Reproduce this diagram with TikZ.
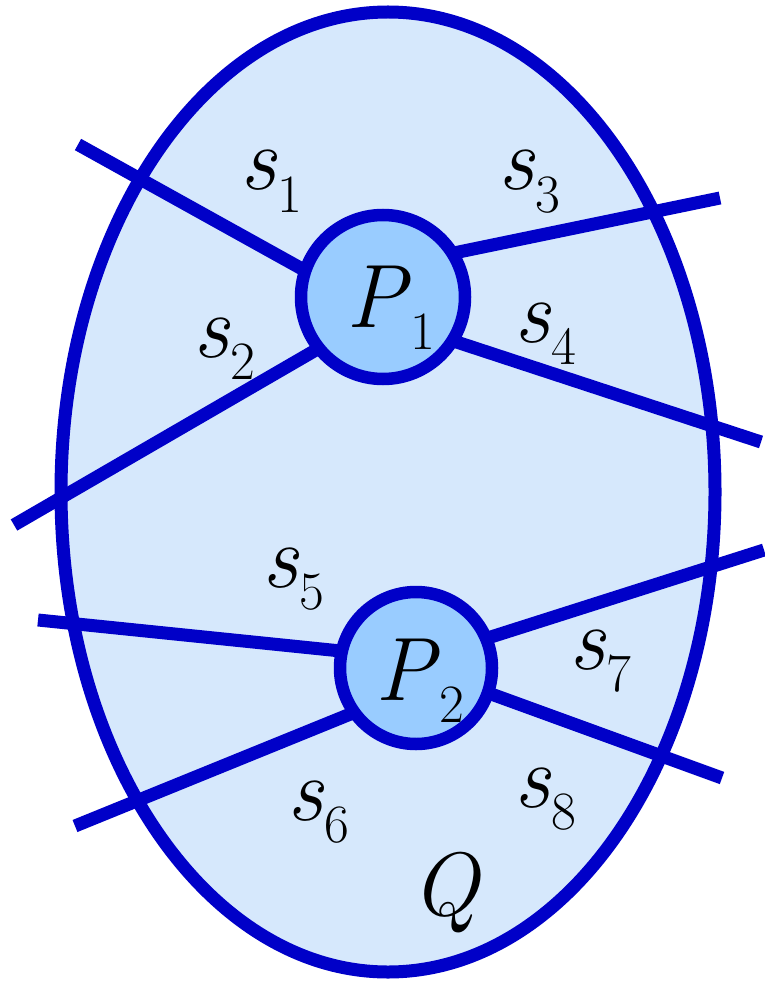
\documentclass[tikz,border=0pt]{standalone}
\usepackage{fontspec}
\definecolor{edgeblue}{RGB}{0,0,200}
\definecolor{regionfill}{RGB}{214,232,252}
\definecolor{procfill}{RGB}{153,204,255}
\newcommand\lab[3][0em]{\textit{#2}\kern#1\raisebox{-0.25em}{\fontsize{54}{60}\selectfont #3}}
\tikzset{
  region/.style={draw=edgeblue, line width=13pt, fill=regionfill},
  wire/.style={draw=edgeblue, line width=13pt},
  proc/.style={circle, draw=edgeblue, line width=12.5pt, fill=procfill, inner sep=0pt},
  lbl/.style={inner sep=0pt, font=\fontsize{90}{100}\selectfont, anchor=base west}
}
\begin{document}
\begin{tikzpicture}[x=1pt,y=-1pt]
\useasboundingbox (0,0) rectangle (764,981);
\path[region] (388,492) ellipse [x radius=327, y radius=480];
% outer ends of the wires
\coordinate (a1) at (78,144.5);
\coordinate (a2) at (14,525);
\coordinate (a3) at (720,198);
\coordinate (a4) at (761,442);
\coordinate (a5) at (38,620);
\coordinate (a6) at (75,826);
\coordinate (a7) at (764,550);
\coordinate (a8) at (722,778);
% inner ends (hidden under the circles)
\coordinate (b1) at (340,290);
\coordinate (b2) at (340,336);
\coordinate (b3) at (420,260);
\coordinate (b4) at (420,330);
\coordinate (b5) at (380,655);
\coordinate (b6) at (380,702);
\coordinate (b7) at (450,650);
\coordinate (b8) at (450,679);
\foreach \i in {1,...,8} {\draw[wire] (a\i) -- (b\i);}
\node[proc, minimum size=164pt] (P1) at (383,297) {};
\node[proc, minimum size=152pt] (P2) at (416,668) {};
\node[lbl] (tP1) at (346,327) {\lab{P}{1}};
\node[lbl] (tP2) at (375,700) {\lab{P}{2}};
\node[lbl] (s1) at (240,190) {\lab{s}{1}};
\node[lbl] (s3) at (498,190) {\lab{s}{3}};
\node[lbl] (s2) at (193,357) {\lab{s}{2}};
\node[lbl] (s4) at (514,342) {\lab{s}{4}};
\node[lbl] (s5) at (262,587) {\lab{s}{5}};
\node[lbl] (s7) at (569,669) {\lab{s}{7}};
\node[lbl] (s6) at (287,820) {\lab{s}{6}};
\node[lbl] (s8) at (514,807) {\lab{s}{8}};
\node[lbl] (Q) at (411,915) {\textit{Q}};
\end{tikzpicture}
\end{document}
